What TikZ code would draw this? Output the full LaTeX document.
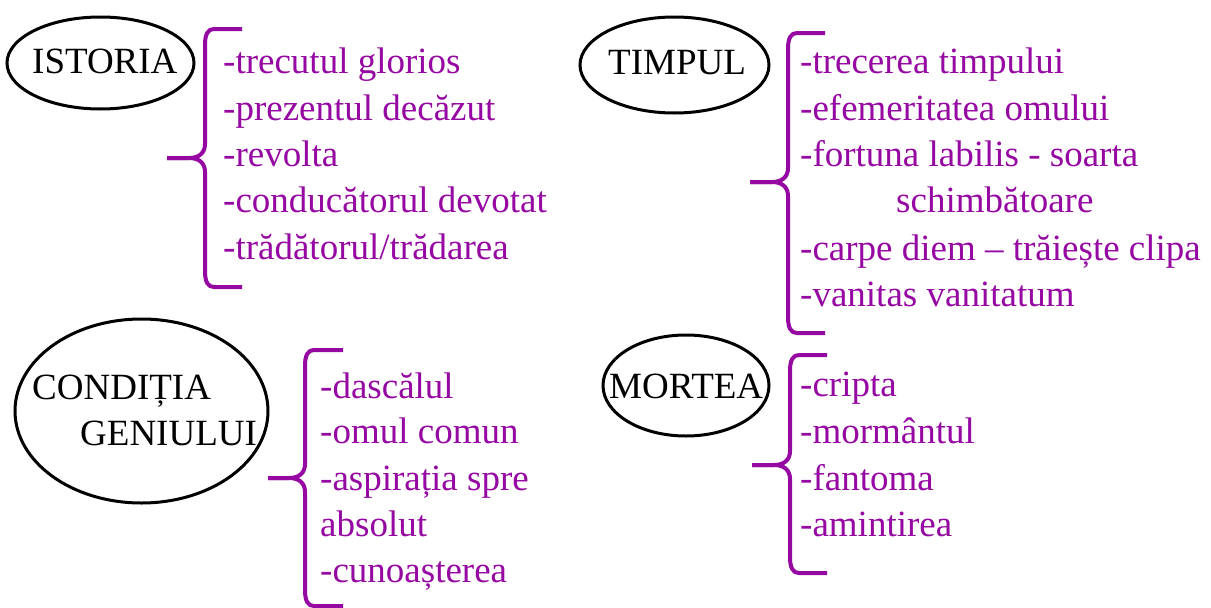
\documentclass[tikz,border=0pt]{standalone}
\usepackage{fontspec}
\setmainfont{Liberation Serif}
\usetikzlibrary{shapes.geometric}
\definecolor{lilac}{RGB}{150,8,162}
\newcommand{\drawbrace}[6]{%
  \draw[bracestyle] (#6,#2) -- ({#1+9},#2) .. controls ({#1+3},#2) and (#1,{#2+5}) .. (#1,{#2+16})
    -- (#1,{#5-14}) .. controls (#1,{#5-5}) and ({#1-6},#5) .. ({#1-16},#5) -- (#4,#5);
  \draw[bracestyle] (#4,#5) -- ({#1-16},#5) .. controls ({#1-6},#5) and (#1,{#5+5}) .. (#1,{#5+14})
    -- (#1,{#3-16}) .. controls (#1,{#3-5}) and ({#1+3},#3) .. ({#1+9},#3) -- (#6,#3);
}
\begin{document}
\begin{tikzpicture}[x=1pt,y=-1pt,
  bracestyle/.style={draw=lilac,line width=4pt,line cap=butt,line join=round},
  oval/.style={draw=black,ellipse,line width=3pt,inner sep=0pt},
  topic/.style={anchor=base west,inner sep=0pt,text=black,font=\fontsize{37}{44}\selectfont},
  item/.style={anchor=base west,inner sep=0pt,text=lilac,font=\fontsize{37}{44}\selectfont}]
\useasboundingbox (0,0) rectangle (1211,608);
\fill[white] (0,0) rectangle (1211,608);

% ISTORIA
\node[oval,minimum width=187pt,minimum height=92pt] (e1) at (100.5,63) {};
\node[topic] (t1) at (32,73) {ISTORIA};
\drawbrace{205}{29}{287}{167}{158}{242}
\node[item] (a1) at (223,73.3) {-trecutul glorios};
\node[item] (a2) at (223,120) {-prezentul decăzut};
\node[item] (a3) at (223,166.5) {-revolta};
\node[item] (a4) at (223,212.7) {-conducătorul devotat};
\node[item] (a5) at (223,259) {-trădătorul/trădarea};

% TIMPUL
\node[oval,minimum width=189pt,minimum height=96pt] (e2) at (674.5,65) {};
\node[topic] (t2) at (608,74) {TIMPUL};
\drawbrace{788}{33}{333}{750}{182}{825}
\node[item] (b1) at (800,73.3) {-trecerea timpului};
\node[item] (b2) at (800,120.3) {-efemeritatea omului};
\node[item] (b3) at (800,166.7) {-fortuna labilis - soarta};
\node[item] (b4) at (896,212.7) {schimbătoare};
\node[item] (b5) at (800,260) {-carpe diem – trăiește clipa};
\node[item] (b6) at (800,306) {-vanitas vanitatum};

% CONDITIA GENIULUI
\node[oval,minimum width=253pt,minimum height=184pt] (e3) at (141.5,411) {};
\node[topic] (t3) at (32,399) {CONDIȚIA};
\node[topic] (t4) at (80,445) {GENIULUI};
\drawbrace{305}{350}{606}{268}{478}{343}
\node[item] (c1) at (320,398.3) {-dascălul};
\node[item] (c2) at (320,443.5) {-omul comun};
\node[item] (c3) at (320,490) {-aspirația spre};
\node[item] (c4) at (320,536.5) {absolut};
\node[item] (c5) at (320,582) {-cunoașterea};

% MORTEA
\node[oval,minimum width=166pt,minimum height=101pt] (e4) at (686,385.5) {};
\node[topic] (t5) at (609,398) {MORTEA};
\drawbrace{790}{355}{573}{752}{465}{827}
\node[item] (d1) at (800,396.7) {-cripta};
\node[item] (d2) at (800,443.3) {-mormântul};
\node[item] (d3) at (800,490) {-fantoma};
\node[item] (d4) at (800,536) {-amintirea};
\end{tikzpicture}
\end{document}
